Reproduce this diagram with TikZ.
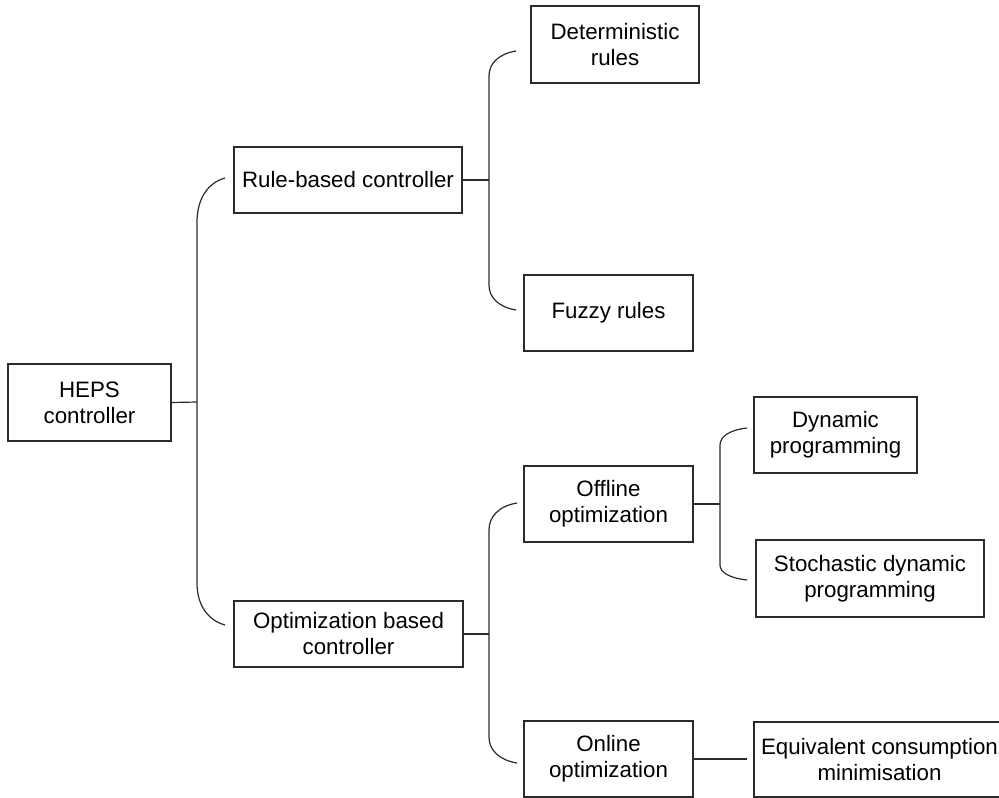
\documentclass[tikz,border=0pt]{standalone}
\usepackage{fontspec}
\setmainfont{Liberation Sans}
\begin{document}
\definecolor{linec}{HTML}{2B2B2B}
\begin{tikzpicture}[x=1pt,y=-1pt,
  box/.style={draw=linec, line width=1.2pt, fill=white, inner sep=0pt,
    align=center, font=\fontsize{22.3}{26}\selectfont},
  conn/.style={draw=linec, line width=1.2pt}]
\useasboundingbox (0,0) rectangle (999,798);

% boxes
\node[box, minimum width=163, minimum height=77] (heps)  at (89.5,402.5) {HEPS\\controller};
\node[box, minimum width=228, minimum height=66] (rule)  at (348,180)    {Rule-based controller};
\node[box, minimum width=168, minimum height=77] (det)   at (615,44.5)   {Deterministic\\rules};
\node[box, minimum width=169, minimum height=76] (fuzzy) at (608.5,313)  {Fuzzy rules};
\node[box, minimum width=229, minimum height=66] (opt)   at (348.5,634)  {Optimization based\\controller};
\node[box, minimum width=169, minimum height=76] (off)   at (608.5,504)  {Offline\\optimization};
\node[box, minimum width=163, minimum height=76] (dyn)   at (835.5,435)  {Dynamic\\programming};
\node[box, minimum width=228, minimum height=77] (sto)   at (870,578.5)  {Stochastic dynamic\\programming};
\node[box, minimum width=169, minimum height=76] (onl)   at (608.5,759)  {Online\\optimization};
\node[box, minimum width=251, minimum height=75] (eq)    at (879.5,759.5) {Equivalent consumption\\minimisation};

% brace from HEPS controller
\coordinate (j1) at (197,402);
\coordinate (s1t) at (197,222); \coordinate (s1b) at (197,583);
\coordinate (e1t) at (225,178); \coordinate (e1b) at (225,625);
\draw[conn] (heps.east) -- (j1);
\draw[conn] (e1t) .. controls (207,183) and (197,200) .. (s1t) -- (s1b)
  .. controls (197,604) and (207,620) .. (e1b);

% brace from rule-based controller
\coordinate (j2) at (489,180);
\coordinate (s2t) at (489,76); \coordinate (s2b) at (489,285);
\coordinate (e2t) at (516,51); \coordinate (e2b) at (516,310);
\draw[conn] (rule.east) -- (j2);
\draw[conn] (e2t) .. controls (498.5,54) and (489,63.5) .. (s2t) -- (s2b)
  .. controls (489,297.5) and (498.5,307) .. (e2b);

% brace from optimization based controller
\coordinate (j3) at (489,634);
\coordinate (s3t) at (489,530); \coordinate (s3b) at (489,737);
\coordinate (e3t) at (517,503); \coordinate (e3b) at (517,763);
\draw[conn] (opt.east) -- (j3);
\draw[conn] (e3t) .. controls (499,506) and (489,516.5) .. (s3t) -- (s3b)
  .. controls (489,750) and (499,760) .. (e3b);

% brace from offline optimization
\coordinate (j4) at (720,504);
\coordinate (s4t) at (720,445); \coordinate (s4b) at (720,565);
\coordinate (e4t) at (747,428); \coordinate (e4b) at (747,580);
\draw[conn] (off.east) -- (j4);
\draw[conn] (e4t) .. controls (729.5,430) and (720,436.5) .. (s4t) -- (s4b)
  .. controls (720,572.5) and (729.5,578) .. (e4b);

% online optimization to its single method
\coordinate (e5) at (747,759);
\draw[conn] (onl.east) -- (e5);
\end{tikzpicture}
\end{document}
